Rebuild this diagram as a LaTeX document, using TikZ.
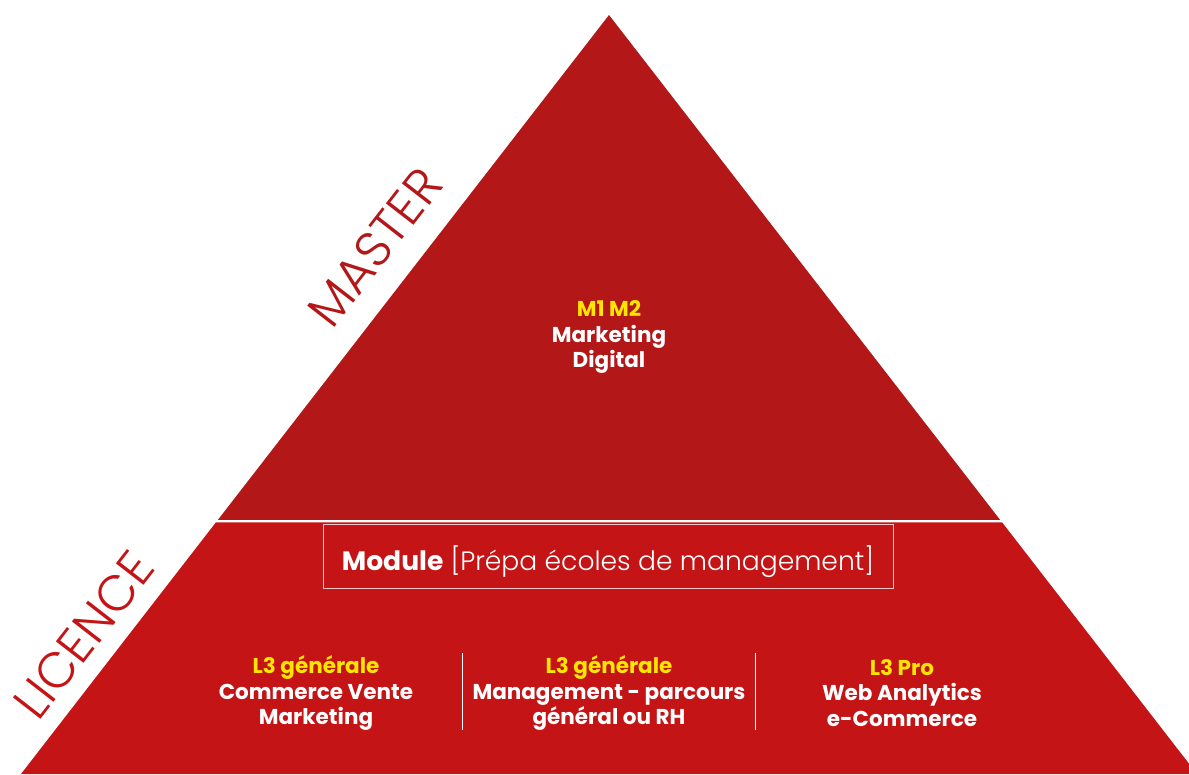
\documentclass[tikz,border=0pt]{standalone}
\usepackage{fontspec}
\setmainfont{Poppins}
\newfontfamily\lightfont{Poppins Light}
\usepackage{tikz}
\definecolor{masterred}{RGB}{179,23,23}
\definecolor{licencered}{RGB}{196,20,22}
\definecolor{levelyellow}{RGB}{255,230,0}
\definecolor{boxline}{RGB}{240,200,200}
\tikzset{
	level/.style={text=white, font=\bfseries\fontsize{21.5}{25.5}\selectfont, align=center},
	tier/.style={font=\lightfont\fontsize{50}{50}\selectfont, rotate=52.2},
	sep/.style={draw=white, line width=1pt}
}

\begin{document}
\begin{tikzpicture}[x=1pt, y=1pt]
		\useasboundingbox (0,0) rectangle (1189,774) ;
		\clip (0,0) rectangle (1189,774) ;
		% pyramid
		\fill[masterred] (217.8,254) -- (609,759) -- (1000.2,254) -- cycle ;
		\fill[licencered] (21,0) -- (215.8,251.5) -- (1002.2,251.5) -- (1197,0) -- cycle ;
		\node[tier, text=masterred] (Master) at (375,527) {MASTER} ;
		\node[tier, text=licencered] (Licence) at (84,139) {LICENCE} ;
		\node[level] (MOne) at (609,437) {\textcolor{levelyellow}{M1 M2}\\Marketing\\Digital} ;
		\node[draw=boxline, line width=0.8pt, minimum width=570pt, minimum height=64pt, text=white, font=\fontsize{26.6}{30}\selectfont] (Module) at (608,218) {\raisebox{-6pt}[\height][\depth]{\textbf{Module} {\lightfont[Prépa écoles de management]}}} ;
		% licence tracks
		\node[level] (LGen) at (316,81) {\textcolor{levelyellow}{L3 générale}\\Commerce Vente\\Marketing} ;
		\node[level] (LMan) at (609,81) {\textcolor{levelyellow}{L3 générale}\\Management - parcours\\général ou RH} ;
		\node[level] (LPro) at (902,81) {\textcolor{levelyellow}{L3 Pro}\\Web Analytics\\e-Commerce} ;
		\coordinate (SepA) at (462,121) ;
		\coordinate (SepB) at (755,121) ;
		\draw[sep] (SepA) -- ++(0,-77) ;
		\draw[sep] (SepB) -- ++(0,-77) ;
	\end{tikzpicture}
\end{document}
